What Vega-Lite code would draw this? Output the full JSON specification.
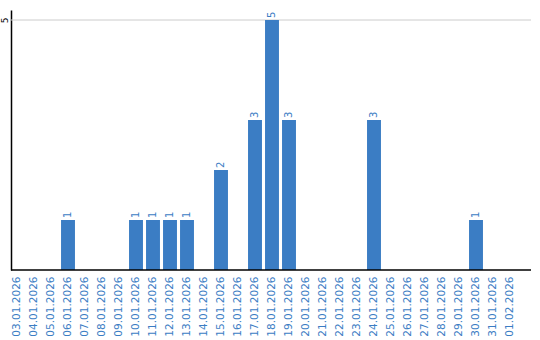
{
  "$schema": "https://vega.github.io/schema/vega-lite/v6.json",
  "width": 520,
  "height": 260,
  "padding": {"left": 11, "top": 10, "right": 9, "bottom": 70},
  "autosize": {"type": "none"},
  "config": {"view": {"stroke": null}, "font": "DejaVu Sans"},
  "data": {"values": [
    {"d": "03.01.2026", "v": 0}, {"d": "04.01.2026", "v": 0}, {"d": "05.01.2026", "v": 0},
    {"d": "06.01.2026", "v": 1}, {"d": "07.01.2026", "v": 0}, {"d": "08.01.2026", "v": 0},
    {"d": "09.01.2026", "v": 0}, {"d": "10.01.2026", "v": 1}, {"d": "11.01.2026", "v": 1},
    {"d": "12.01.2026", "v": 1}, {"d": "13.01.2026", "v": 1}, {"d": "14.01.2026", "v": 0},
    {"d": "15.01.2026", "v": 2}, {"d": "16.01.2026", "v": 0}, {"d": "17.01.2026", "v": 3},
    {"d": "18.01.2026", "v": 5}, {"d": "19.01.2026", "v": 3}, {"d": "20.01.2026", "v": 0},
    {"d": "21.01.2026", "v": 0}, {"d": "22.01.2026", "v": 0}, {"d": "23.01.2026", "v": 0},
    {"d": "24.01.2026", "v": 3}, {"d": "25.01.2026", "v": 0}, {"d": "26.01.2026", "v": 0},
    {"d": "27.01.2026", "v": 0}, {"d": "28.01.2026", "v": 0}, {"d": "29.01.2026", "v": 0},
    {"d": "30.01.2026", "v": 1}, {"d": "31.01.2026", "v": 0}, {"d": "01.02.2026", "v": 0}
  ]},
  "encoding": {
    "x": {"field": "d", "type": "nominal", "sort": null,
      "scale": {"range": [-2.5, 507.5], "paddingInner": 0.18, "paddingOuter": 0.09},
      "axis": {"title": null, "labelAngle": -90, "labelColor": "#3b7dc4", "labelFontSize": 10.5,
        "ticks": false, "labelPadding": 6, "grid": false, "domain": false}},
    "y": {"field": "v", "type": "quantitative",
      "scale": {"domain": [0, 5.2], "nice": false},
      "axis": {"title": null, "values": [5], "labelAngle": -90, "labelFontSize": 9, "labelColor": "#000",
        "ticks": false, "labelPadding": 2, "domainColor": "#000", "domainWidth": 1.5,
        "grid": false, "labelAlign": "center", "labelBaseline": "bottom"}}
  },
  "layer": [
    {"mark": {"type": "rule", "color": "#cccccc", "strokeWidth": 1}, "data": {"values": [{"g": 5}]},
      "encoding": {"y": {"field": "g", "type": "quantitative"}, "x": null}},
    {"mark": {"type": "bar", "color": "#3b7dc4"}},
    {"mark": {"type": "text", "angle": 270, "align": "left", "baseline": "middle", "dx": 2, "color": "#3b7dc4", "fontSize": 10},
      "encoding": {"text": {"condition": {"test": "datum.v > 0", "field": "v"}, "value": ""}}},
    {"mark": {"type": "rule", "color": "#000", "strokeWidth": 1.5}, "data": {"values": [{"z": 0}]},
      "encoding": {"y": {"field": "z", "type": "quantitative"}, "x": null}}
  ]
}
